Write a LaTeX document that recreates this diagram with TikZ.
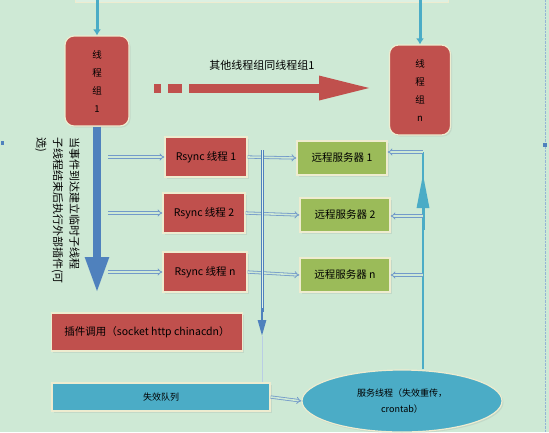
\documentclass[tikz,border=0pt]{standalone}
\usepackage{fontspec}
\setmainfont{Noto Sans CJK SC}
\usetikzlibrary{arrows.meta, shapes.geometric, shadows}
\definecolor{bgcol}{RGB}{206,233,213}
\definecolor{boxred}{RGB}{192,80,77}
\definecolor{boxgreen}{RGB}{155,187,89}
\definecolor{boxblue}{RGB}{75,172,198}
\definecolor{bigblue}{RGB}{79,129,189}
\definecolor{edgecol}{RGB}{238,236,208}
\tikzset{>=latex}

\begin{document}
\begin{tikzpicture}[x=1pt, y=-1pt,
	softshadow/.style={drop shadow={shadow xshift=1.5pt, shadow yshift=-1.5pt, opacity=0.15}},
	grpbox/.style={shape=rectangle, rounded corners=9pt, fill=boxred, draw=edgecol, line width=1.2pt, softshadow, minimum width=64pt, minimum height=90pt, align=center, font=\fontsize{9.5}{18}\selectfont},
	rsbox/.style={shape=rectangle, fill=boxred, draw=edgecol, line width=1.2pt, softshadow, minimum width=82pt, minimum height=40pt, font=\fontsize{10.5}{12}\selectfont},
	srvbox/.style={shape=rectangle, fill=boxgreen, draw=edgecol, line width=1.2pt, softshadow, minimum width=90pt, minimum height=34pt, font=\fontsize{10.5}{12}\selectfont},
	dblarrow/.style={draw=bigblue!80, double=bgcol, double distance=1.6pt, line width=0.8pt, -{Implies}},
	feed/.style={draw=boxblue, line width=3pt}]
	% Background and frame:
	\fill[bgcol] (0,0) rectangle (549,432);
	\useasboundingbox (0,0) rectangle (549,432);
	\clip (0,0) rectangle (549,432);
	\draw[fill=bgcol!70!white, draw=edgecol] (75,-10) rectangle (448,2);
	\draw[bigblue!60, densely dotted] (545,0) -- (545,432);
	\fill[bigblue] (0.5,141) rectangle (4,145);
	\fill[bigblue] (543,143) rectangle (547,147);
	% Thread groups:
	\node[grpbox] (grp1) at (97,81) {线\\程\\组\\1};
	\node[grpbox, minimum width=61pt] (grpn) at (420,90) {线\\程\\组\\n};
	\coordinate (in1) at (97,0);
	\coordinate (inn) at (420,0);
	\draw[feed, -{Latex[length=6pt, width=8pt]}] (in1) -- (grp1.north);
	\draw[feed, -{Latex[length=6pt, width=8pt]}] (inn) -- (grpn.north);
	\coordinate (redstart) at (154,88);
	\coordinate (redtip) at (373,88);
	\draw[boxred, line width=9pt, dash pattern=on 7pt off 7pt on 14pt off 7pt on 400pt, -{Triangle[length=54pt, width=22pt]}] (redstart) -- (redtip);
	\node[font=\fontsize{11}{13}\selectfont] (samelbl) at (262,65) {其他线程组同线程组1};
	% Rsync threads and servers:
	\node[rsbox] (rs1) at (206,157) {Rsync 线程 1};
	\node[rsbox] (rs2) at (204,213) {Rsync 线程 2};
	\node[rsbox, minimum width=84pt] (rsn) at (205,272) {Rsync 线程 n};
	\node[srvbox] (srv1) at (342,158) {远程服务器 1};
	\node[srvbox] (srv2) at (345,215) {远程服务器 2};
	\node[srvbox] (srvn) at (345,275) {远程服务器 n};
	\node[rsbox, minimum width=191pt, minimum height=38pt] (plugin) at (147,332) {插件调用（socket http chinacdn）};
	\node[shape=rectangle, fill=boxblue, draw=edgecol, line width=1.2pt, softshadow, minimum width=218pt, minimum height=28pt, font=\fontsize{9}{11}\selectfont] (failq) at (161,397) {失效队列};
	\node[shape=ellipse, fill=boxblue, draw=edgecol, line width=1.2pt, softshadow, minimum width=200pt, minimum height=62pt, align=center, font=\fontsize{9}{16}\selectfont] (svc) at (402,401) {服务线程（失效重传，\\crontab）};
	% Main flow down from group 1:
	\coordinate (bigtip) at (97,293);
	\draw[bigblue, line width=8pt, -{Triangle[length=36pt, width=22pt]}] (grp1.south) -- (bigtip);
	\node[rotate=-90, anchor=north west, align=left, inner sep=0pt, font=\fontsize{11}{16.5}\selectfont] (note) at (80,137) {当事件到达建立临时子线程\\子线程结束后执行外部插件(可\\选)};
	\foreach \r in {rs1, rs2, rsn} {
		\draw[dblarrow] (\r.west -| 108,0) -- (\r.west);
	}
	\draw[dblarrow] (rs1.east) -- (srv1.west);
	\draw[dblarrow] (rs2.east) -- (srv2.west);
	\draw[dblarrow] (rsn.east) -- (srvn.west);
	% Collecting line to the failure queue:
	\coordinate (bustop) at (262,150);
	\coordinate (busarr) at (262,336);
	\draw[bigblue, double=bgcol!60!white, double distance=1pt, line width=1pt] (bustop) -- (262,312);
	\draw[bigblue, line width=2.5pt, -{Triangle[length=16pt, width=8pt]}] (262,308) -- (busarr);
	\draw[bigblue!40, line width=0.8pt] (busarr) -- (failq.north -| busarr);
	\draw[dblarrow] (failq.east) -- (svc.west);
	% Resend line back to the servers:
	\coordinate (backtop) at (423,152);
	\coordinate (backtip) at (423,174);
	\draw[boxblue, line width=2.5pt] (svc.north -| backtop) -- (backtop);
	\draw[boxblue, line width=3pt, -{Triangle[length=34pt, width=12pt]}] (423,230) -- (backtip);
	\draw[dblarrow] (backtop) -- (srv1.east |- backtop);
	\draw[dblarrow] (423,216) -- (srv2.east |- 0,216);
	\draw[dblarrow] (423,275) -- (srvn.east);
\end{tikzpicture}
\end{document}
